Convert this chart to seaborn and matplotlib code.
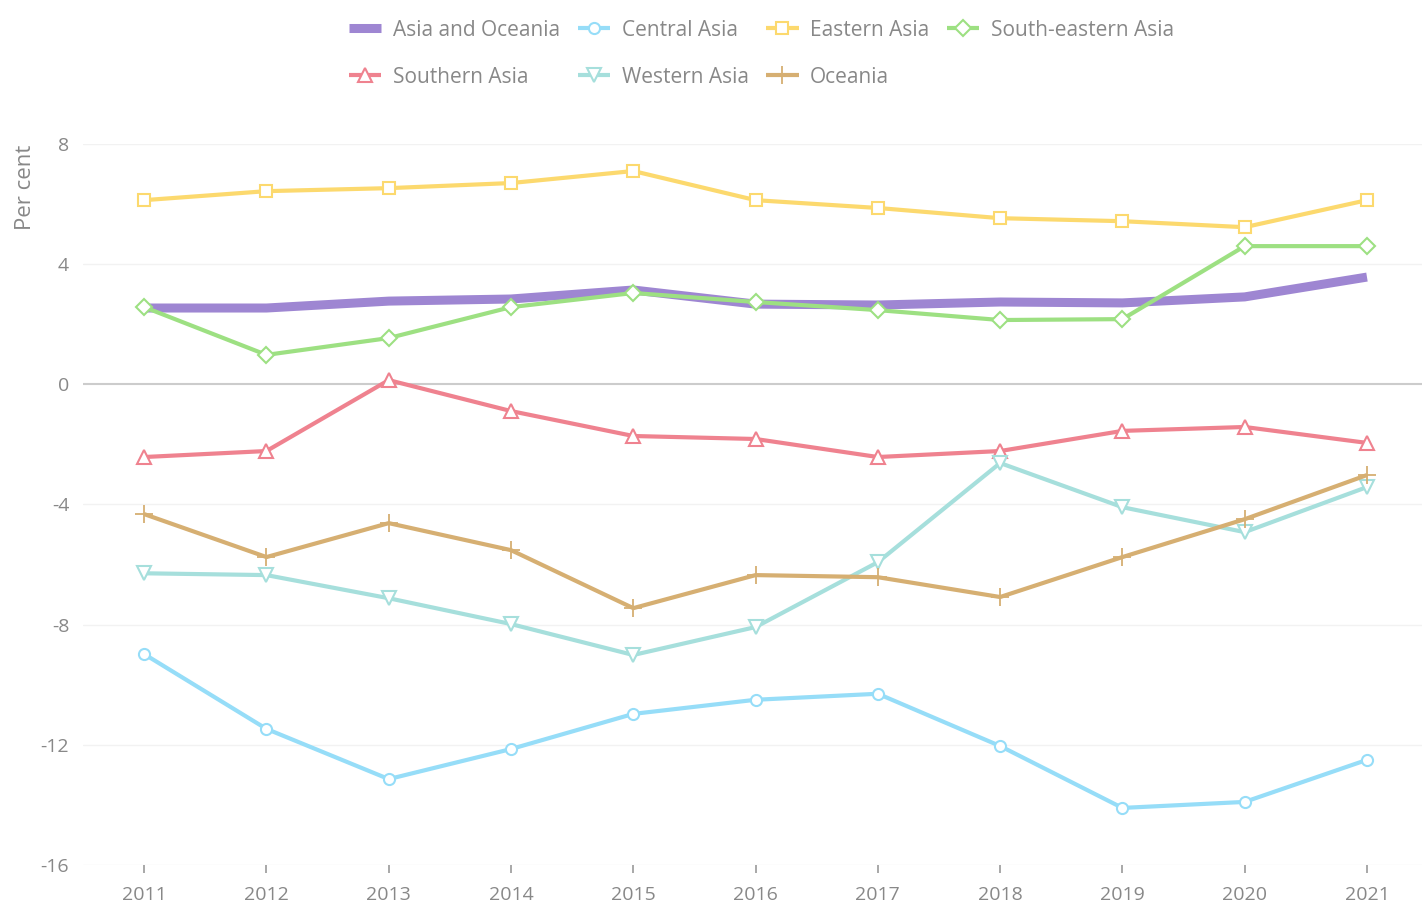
import matplotlib
matplotlib.use("Agg")
import matplotlib.pyplot as plt
import seaborn as sns
import pandas as pd

years = list(range(2011, 2022))

asia_oceania = [2.54, 2.54, 2.77, 2.84, 3.14, 2.67, 2.64, 2.74, 2.71, 2.91, 3.57]
central_asia = [-8.98, -11.47, -13.14, -12.14, -10.97, -10.5, -10.3, -12.04, -14.1, -13.9, -12.5]
eastern_asia = [6.13, 6.43, 6.53, 6.70, 7.1, 6.13, 5.87, 5.53, 5.43, 5.23, 6.13]
south_eastern_asia = [2.57, 0.98, 1.54, 2.57, 3.04, 2.74, 2.47, 2.14, 2.17, 4.6, 4.6]
southern_asia = [-2.42, -2.22, 0.14, -0.89, -1.72, -1.82, -2.42, -2.22, -1.55, -1.42, -1.95]
western_asia = [-6.29, -6.35, -7.12, -7.98, -9.01, -8.08, -5.92, -2.62, -4.09, -4.92, -3.42]
oceania = [-4.32, -5.75, -4.62, -5.52, -7.45, -6.35, -6.42, -7.08, -5.75, -4.49, -3.02]

series = {
    "Asia and Oceania": asia_oceania,
    "Central Asia": central_asia,
    "Eastern Asia": eastern_asia,
    "South-eastern Asia": south_eastern_asia,
    "Southern Asia": southern_asia,
    "Western Asia": western_asia,
    "Oceania": oceania,
}

styles = {
    "Asia and Oceania": dict(color="#9E86D2", lw=6.5, marker=None),
    "Central Asia": dict(color="#96DDF8", lw=3, marker="o"),
    "Eastern Asia": dict(color="#FCD96E", lw=3, marker="s"),
    "South-eastern Asia": dict(color="#9DE082", lw=3, marker="D"),
    "Southern Asia": dict(color="#EF828F", lw=3, marker="^"),
    "Western Asia": dict(color="#A6DFDC", lw=3, marker="v"),
    "Oceania": dict(color="#D6AF72", lw=3, marker="+"),
}

sns.set_theme(style="white")
plt.rcParams["font.family"] = ["Open Sans", "DejaVu Sans"]
grey = "#888888"

fig = plt.figure(figsize=(14.22, 9.09), dpi=100)
ax = fig.add_axes([0.0584, 0.0484, 0.9416, 0.7932])

for name, vals in series.items():
    st = styles[name]
    df = pd.DataFrame({"year": years, "value": vals})
    mk = st["marker"]
    kw = {}
    if mk == "+":
        kw = dict(marker="+", markersize=13, markeredgewidth=1.3,
                  markeredgecolor=st["color"])
    elif mk is not None:
        ms = 8 if mk in ("o", "s", "D") else 10
        kw = dict(marker=mk, markersize=ms, markerfacecolor="white",
                  markeredgecolor=st["color"], markeredgewidth=1.5)
    sns.lineplot(data=df, x="year", y="value", ax=ax, color=st["color"],
                 linewidth=st["lw"], label=name, solid_capstyle="butt", **kw)

ax.set_xlim(2010.5, 2021.45)
ax.set_ylim(-16, 8)
ax.set_yticks([-16, -12, -8, -4, 0, 4, 8])
ax.set_yticklabels(["-16", "-12", "-8", "-4", "0", "4", "8"])
ax.set_xticks(years)
ax.set_xticklabels([str(y) for y in years])
ax.set_xlabel("")
ax.set_ylabel("Per cent", fontsize=16, color=grey)
ax.yaxis.set_label_coords(-0.035, 0.94)

# light gridlines, darker zero line
for y in [-16, -12, -8, -4, 4, 8]:
    ax.axhline(y, color="#F2F2F2", lw=1, zorder=0)
ax.axhline(0, color="#CCCCCC", lw=1.5, zorder=0)

for s in ax.spines.values():
    s.set_visible(False)
ax.tick_params(axis="y", length=0, labelsize=14, labelcolor=grey, pad=10)
ax.tick_params(axis="x", length=6, width=1.2, color="#999999", labelsize=14,
               labelcolor=grey, pad=9, direction="out", bottom=True)

# legend filled column-wise, so reorder to read row-wise
h, l = ax.get_legend_handles_labels()
lookup = dict(zip(l, h))
order = ["Asia and Oceania", "Southern Asia", "Central Asia", "Western Asia",
         "Eastern Asia", "Oceania", "South-eastern Asia"]
leg = fig.legend([lookup[o] for o in order], order, ncol=4, loc="upper center",
                 bbox_to_anchor=(0.5355, 0.999), frameon=False, fontsize=15,
                 handlelength=1.55, columnspacing=0.85, labelspacing=1.25,
                 handletextpad=0.55)
for t in leg.get_texts():
    t.set_color(grey)
if ax.get_legend():
    ax.get_legend().remove()

fig.savefig("out.png", dpi=100)
